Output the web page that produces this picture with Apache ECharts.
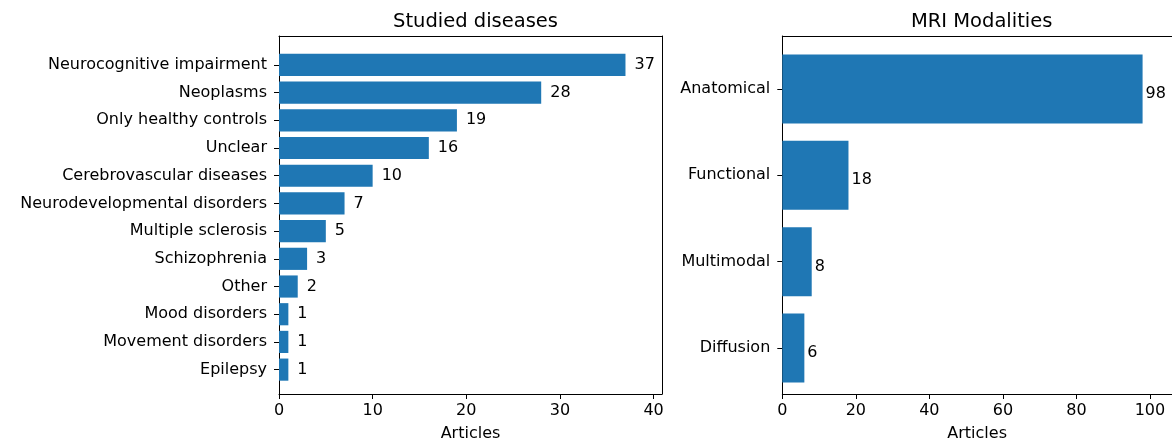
<!DOCTYPE html>
<html>
<head>
<meta charset="utf-8">
<script src="https://cdn.jsdelivr.net/npm/echarts@6/dist/echarts.min.js"></script>
<style>
html,body{margin:0;padding:0;background:#fff;}
#c{width:1172px;height:447px;}
</style>
</head>
<body>
<div id="c"></div>
<script>
// ---- data ----
const diseaseCategories = ["Neurocognitive impairment","Neoplasms","Only healthy controls","Unclear","Cerebrovascular diseases","Neurodevelopmental disorders","Multiple sclerosis","Schizophrenia","Other","Mood disorders","Movement disorders","Epilepsy"];
const diseaseCounts = [37,28,19,16,10,7,5,3,2,1,1,1];
const modalityCategories = ["Anatomical","Functional","Multimodal","Diffusion"];
const modalityCounts = [98,18,8,6];
const leftTicks = [0,10,20,30,40];
const rightTicks = [0,20,40,60,80,100];
const titles = ["Studied diseases","MRI Modalities"];
const xName = "Articles";

const FONT = "DejaVu Sans";
const FS = 16;
const BLUE = "#1f77b4";

// layout (pixels)
const L = {left:279, top:36, width:383, height:361, max:40.9, band:27.7, pad:0.49, shift:1.5};
const R = {left:782.3, top:36, width:393, height:361, max:106.0, band:86.36, pad:0.09, shift:2};

function frameAxes(g, P, ticks){
  const line = {show:true, onZero:false, lineStyle:{color:'#000', width:1}};
  return {
    x: {
      type:'value', gridIndex:g, min:0, max:P.max, interval:ticks[1]-ticks[0],
      splitLine:{show:false},
      axisLine:line,
      axisTick:{show:true, length:5, lineStyle:{color:'#000'}},
      axisLabel:{show:true, color:'#000', fontFamily:FONT, fontSize:FS, margin:9,
        showMaxLabel:false},
      name:xName, nameLocation:'middle', nameGap:32,
      nameTextStyle:{color:'#000', fontFamily:FONT, fontSize:FS}
    },
    xTop: {
      type:'value', gridIndex:g, min:0, max:P.max, position:'top',
      splitLine:{show:false}, axisLabel:{show:false}, axisTick:{show:false},
      axisLine:line
    },
    y: {
      type:'value', gridIndex:g, min:0, max:1, position:'left',
      splitLine:{show:false}, axisLabel:{show:false}, axisTick:{show:false},
      axisLine:line
    },
    yRight: {
      type:'value', gridIndex:g, min:0, max:1, position:'right',
      splitLine:{show:false}, axisLabel:{show:false}, axisTick:{show:false},
      axisLine:line
    }
  };
}

const fA = frameAxes(0, L, leftTicks);
const fC = frameAxes(2, R, rightTicks);

const option = {
  animation:false,
  backgroundColor:'#fff',
  title: [
    {text:titles[0], left:L.left+L.width/2, top:7, textAlign:'center',
     textStyle:{fontFamily:FONT, fontSize:19.5, fontWeight:'normal', color:'#000'}},
    {text:titles[1], left:R.left+ (1171-R.left)/2, top:7, textAlign:'center',
     textStyle:{fontFamily:FONT, fontSize:19.5, fontWeight:'normal', color:'#000'}}
  ],
  grid: [
    {left:L.left, top:L.top, width:L.width, height:L.height, containLabel:false},
    {left:L.left, top:L.top + L.pad*L.band + L.shift, width:L.width, height:diseaseCategories.length*L.band, containLabel:false},
    {left:R.left, top:R.top, width:R.width, height:R.height, containLabel:false},
    {left:R.left, top:R.top + R.pad*R.band + R.shift, width:R.width, height:modalityCategories.length*R.band, containLabel:false}
  ],
  xAxis: [
    fA.x,
    fA.xTop,
    {type:'value', gridIndex:1, min:0, max:L.max, show:false},
    fC.x,
    fC.xTop,
    {type:'value', gridIndex:3, min:0, max:R.max, show:false}
  ],
  yAxis: [
    fA.y,
    fA.yRight,
    {type:'category', gridIndex:1, data:diseaseCategories, inverse:true,
     axisLine:{show:false}, splitLine:{show:false},
     axisTick:{show:true, alignWithLabel:true, length:5, lineStyle:{color:'#000'}},
     axisLabel:{color:'#000', fontFamily:FONT, fontSize:FS, margin:12}},
    fC.y,
    {type:'category', gridIndex:3, data:modalityCategories, inverse:true,
     axisLine:{show:false}, splitLine:{show:false},
     axisTick:{show:true, alignWithLabel:true, length:5, lineStyle:{color:'#000'}},
     axisLabel:{color:'#000', fontFamily:FONT, fontSize:FS, margin:12}}
  ],
  series: [
    {type:'bar', xAxisIndex:2, yAxisIndex:2, data:diseaseCounts, barWidth:'80%',
     itemStyle:{color:BLUE},
     label:{show:true, position:'right', distance:9, color:'#000', fontFamily:FONT, fontSize:FS}},
    {type:'bar', xAxisIndex:5, yAxisIndex:4, data:modalityCounts, barWidth:'80%',
     itemStyle:{color:BLUE},
     label:{show:true, position:'right', distance:3, offset:[0,5], color:'#000', fontFamily:FONT, fontSize:FS}}
  ]
};

const chart = echarts.init(document.getElementById('c'), null, {renderer:'canvas'});
chart.setOption(option);
</script>
</body>
</html>
